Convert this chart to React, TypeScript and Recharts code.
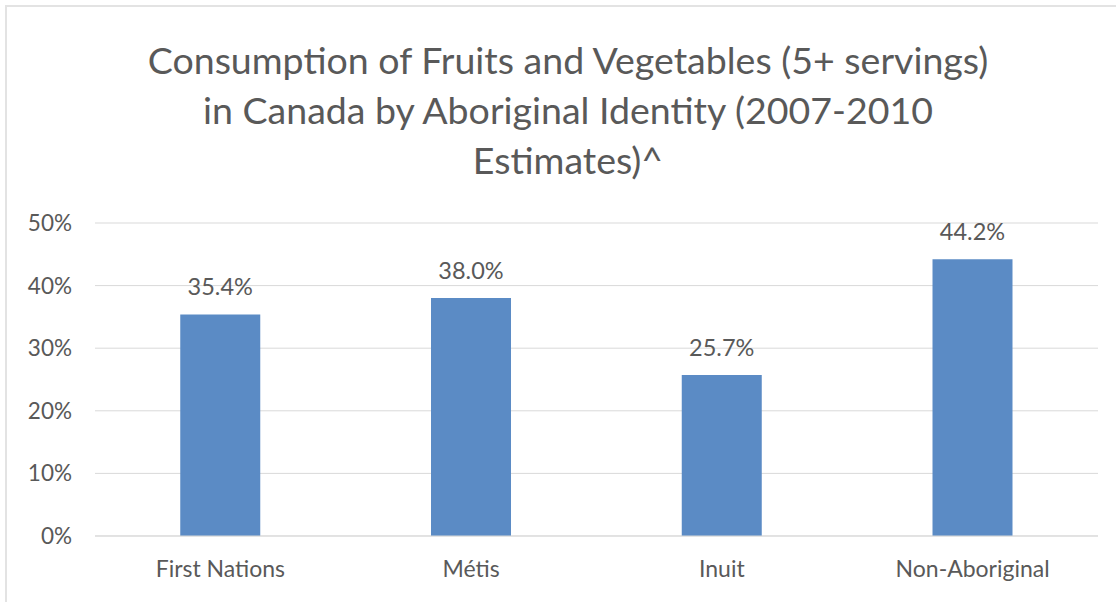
import React from "react";
import { BarChart, Bar, XAxis, YAxis, CartesianGrid, LabelList } from "recharts";

const TITLE_LINES = [
  "Consumption of Fruits and Vegetables (5+ servings)",
  "in Canada by Aboriginal Identity (2007-2010",
  "Estimates)^",
];
const GROUPS = ["First Nations", "Métis", "Inuit", "Non-Aboriginal"];
const SHARE = [35.4, 38.0, 25.7, 44.2];
const Y_TICKS = [0, 10, 20, 30, 40, 50];

const BLUE = "#5b8bc5";
const TEXT = "#595959";
const GRID = "#d9d9d9";
const FONT = "Lato, 'Open Sans', sans-serif";

const data = GROUPS.map((name, i) => ({ name, v: SHARE[i] }));

export default function App() {
  return (
    <div style={{ position: "absolute", left: 0, top: 0, width: 1116, height: 602, overflow: "hidden", background: "#fff", fontFamily: FONT }}>
      {/* frame, only top and left edges visible in the crop */}
      <div style={{ position: "absolute", left: 5, top: 5, width: 1130, height: 620, border: "2px solid #e3e3e3" }} />
      <div style={{ position: "absolute", left: 0, top: 35, width: 1136, textAlign: "center", fontSize: 37.5, lineHeight: "50px", color: TEXT }}>
        {TITLE_LINES.map((t) => <div key={t}>{t}</div>)}
      </div>
      <div style={{ position: "absolute", left: 0, top: 0 }}>
        <BarChart width={1116} height={602} data={data} margin={{ top: 223, right: 18, left: 0, bottom: 0 }} barCategoryGap="34%">
          <CartesianGrid vertical={false} stroke={GRID} />
          <XAxis dataKey="name" height={66} tickLine={false} axisLine={{ stroke: GRID }} tickSize={0} tickMargin={25}
            tick={{ fill: TEXT, fontSize: 23, fontFamily: FONT }} interval={0} />
          <YAxis width={95} domain={[0, 50]} ticks={Y_TICKS} tickFormatter={(v) => `${v}%`} tickLine={false} axisLine={false}
            tickSize={0} tickMargin={23} tick={{ fill: TEXT, fontSize: 22.5, fontFamily: FONT }} />
          <Bar dataKey="v" fill={BLUE} isAnimationActive={false}>
            <LabelList dataKey="v" position="top" offset={19} formatter={(v: number) => `${v.toFixed(1)}%`} fill={TEXT} fontSize={23.5} fontFamily={FONT} />
          </Bar>
        </BarChart>
      </div>
    </div>
  );
}
